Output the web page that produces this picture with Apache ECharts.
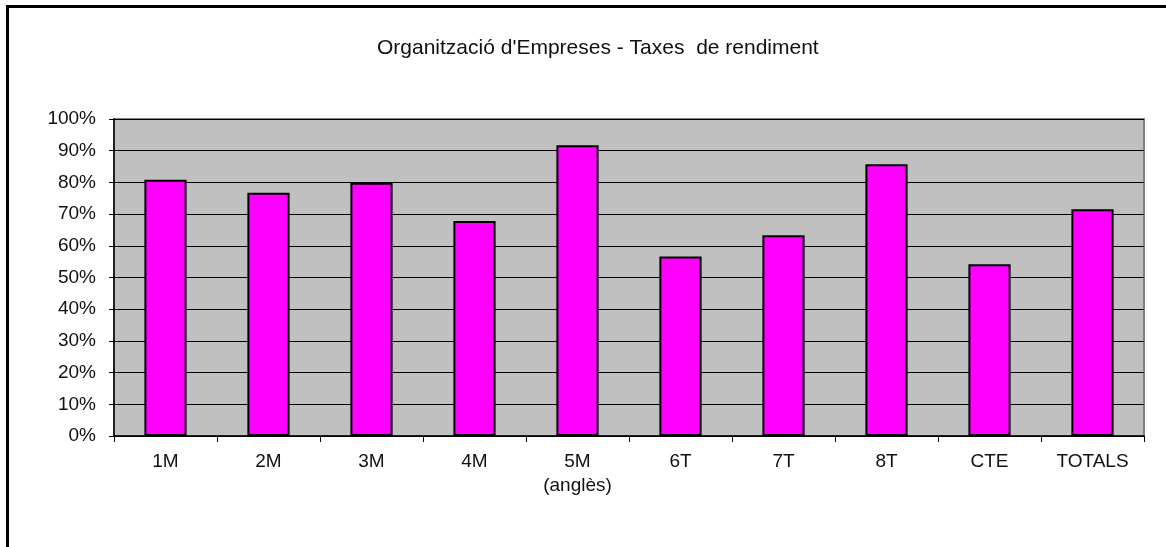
<!DOCTYPE html>
<html>
<head>
<meta charset="utf-8">
<script src="https://cdn.jsdelivr.net/npm/echarts@6/dist/echarts.min.js"></script>
<style>
  html, body { margin: 0; padding: 0; background: #fff; overflow: hidden; }
  #frame {
    position: absolute; left: 6px; top: 5px;
    width: 1300px; height: 700px;
    border: 3px solid #000;
  }
  #chart { position: absolute; left: 0; top: 0; width: 1166px; height: 547px; }
</style>
</head>
<body>
<div id="frame"></div>
<div id="chart"></div>
<script>
// grups i taxes de rendiment (%)
const groups = ['1M', '2M', '3M', '4M', '5M\n(anglès)', '6T', '7T', '8T', 'CTE', 'TOTALS'];
const rates = [80.8, 76.7, 79.9, 67.8, 91.7, 56.6, 63.3, 85.7, 54.2, 71.5];

const chart = echarts.init(document.getElementById('chart'));
const font = 'Arial, "Liberation Sans", sans-serif';

const option = {
  animation: false,
  title: {
    text: "Organització d'Empreses - Taxes  de rendiment",
    left: 372,
    top: 33,
    textStyle: { fontFamily: font, fontSize: 21, fontWeight: 'normal', color: '#111' }
  },
  grid: {
    left: 114,
    top: 119,
    right: 22,
    bottom: 111,
    show: true,
    backgroundColor: '#c0c0c0',
    borderColor: '#808080',
    borderWidth: 2
  },
  xAxis: {
    type: 'category',
    data: groups,
    axisLine: { lineStyle: { color: '#000', width: 1.5 } },
    axisTick: { show: true, length: 6, lineStyle: { color: '#000' } },
    axisLabel: {
      margin: 14,
      fontFamily: font,
      fontSize: 19,
      lineHeight: 24,
      color: '#111'
    }
  },
  yAxis: {
    type: 'value',
    min: 0,
    max: 100,
    interval: 10,
    axisLine: { show: true, lineStyle: { color: '#000', width: 1.5 } },
    axisTick: { show: true, length: 5, lineStyle: { color: '#000' } },
    axisLabel: {
      margin: 18,
      formatter: '{value}%',
      fontFamily: font,
      fontSize: 19,
      color: '#111'
    },
    splitLine: { lineStyle: { color: '#000', width: 1.2 } }
  },
  series: [{
    type: 'bar',
    data: rates,
    barCategoryGap: '59%',
    itemStyle: { color: '#ff00ff', borderColor: '#000', borderWidth: 2 }
  }]
};
chart.setOption(option);
</script>
</body>
</html>
